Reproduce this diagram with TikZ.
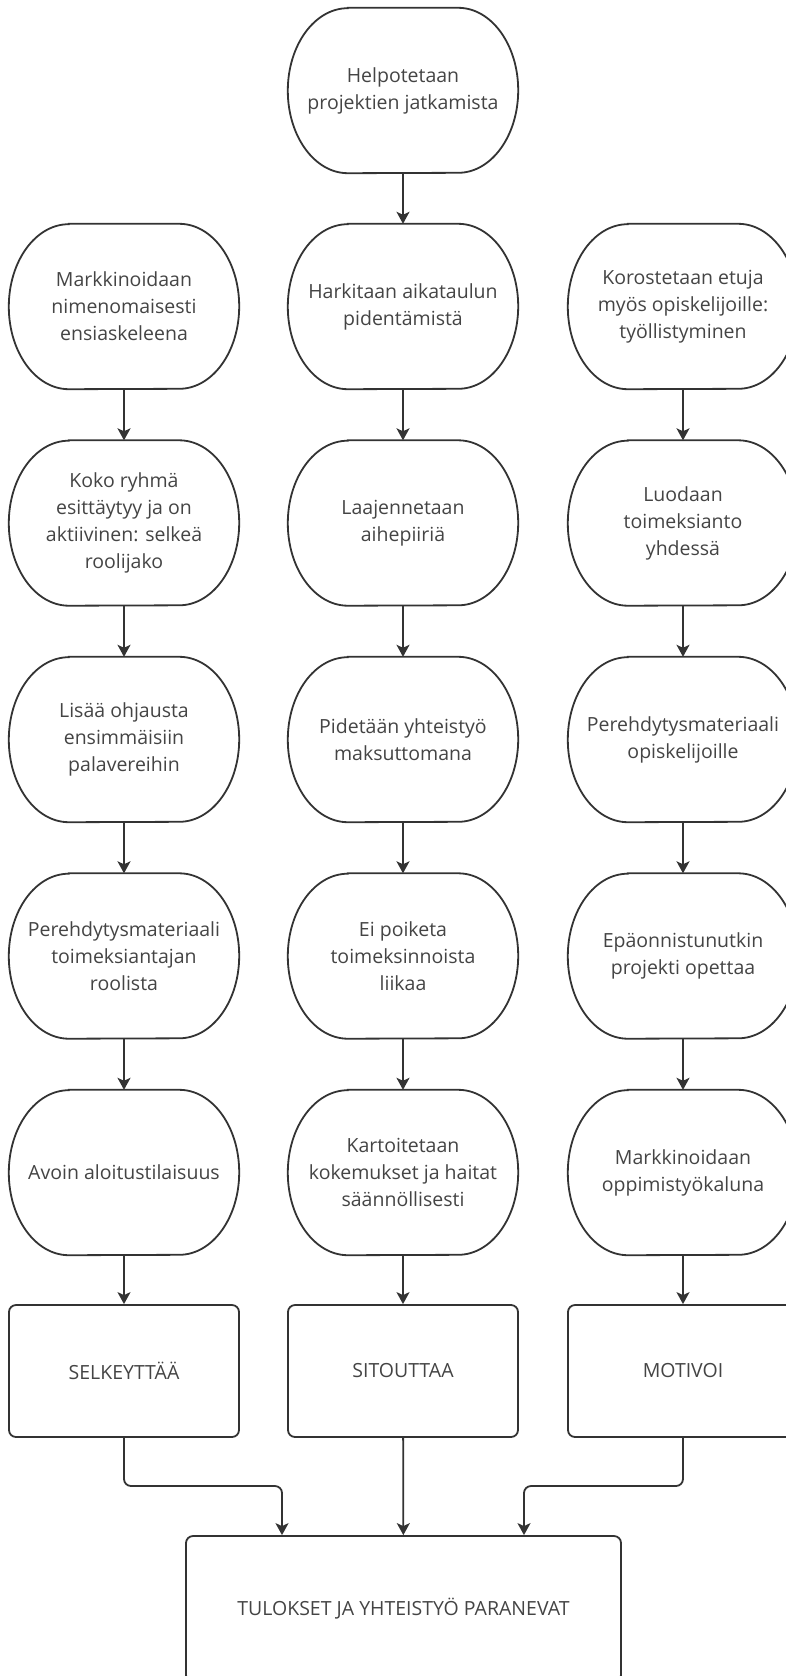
\documentclass[tikz,border=0pt]{standalone}
\usepackage{fontspec}
\setmainfont{Open Sans}
\usepackage{xcolor}
\usetikzlibrary{arrows.meta}
\definecolor{ink}{HTML}{333333}
\definecolor{txt}{HTML}{444444}
\tikzset{
  pill/.style={inner sep=0pt, minimum width=230pt, minimum height=165pt,
    align=center, text=txt, font=\fontsize{19.5pt}{27pt}\selectfont},
  outline/.style={draw=ink, line width=1.8pt},
  goalbox/.style={draw=ink, line width=1.8pt, rounded corners=7pt, inner sep=0pt,
    minimum width=230pt, minimum height=132pt, align=center, text=txt,
    font=\fontsize{19.5pt}{27pt}\selectfont},
  arrow/.style={draw=ink, line width=1.8pt, rounded corners=7pt,
    -{Stealth[length=12pt,width=13pt,inset=3pt]}}
}
\begin{document}
\begin{tikzpicture}[x=1pt,y=-1pt]
  \useasboundingbox (0,0) rectangle (785,1676);

  % top
  \node[pill] (top) at (403,90.5) {Helpotetaan\\projektien jatkamista};

  % left column
  \node[pill] (a1) at (124,306.5) {Markkinoidaan\\nimenomaisesti\\ensiaskeleena};
  \node[pill] (a2) at (124,523) {Koko ryhmä\\esittäytyy ja on\\aktiivinen: selkeä\\roolijako};
  \node[pill] (a3) at (124,739.5) {Lisää ohjausta\\ensimmäisiin\\palavereihin};
  \node[pill] (a4) at (124,956) {Perehdytysmateriaali\\toimeksiantajan\\roolista};
  \node[pill] (a5) at (124,1172.5) {Avoin aloitustilaisuus};
  \node[goalbox] (sel) at (124,1371) {SELKEYTTÄÄ};

  % middle column
  \node[pill] (b1) at (403,306.5) {Harkitaan aikataulun\\pidentämistä};
  \node[pill] (b2) at (403,523) {Laajennetaan\\aihepiiriä};
  \node[pill] (b3) at (403,739.5) {Pidetään yhteistyö\\maksuttomana};
  \node[pill] (b4) at (403,956) {Ei poiketa\\toimeksinnoista\\liikaa};
  \node[pill] (b5) at (403,1172.5) {Kartoitetaan\\kokemukset ja haitat\\säännöllisesti};
  \node[goalbox] (sit) at (403,1371) {SITOUTTAA};

  % right column
  \node[pill] (c1) at (683,306.5) {Korostetaan etuja\\myös opiskelijoille:\\työllistyminen};
  \node[pill] (c2) at (683,523) {Luodaan\\toimeksianto\\yhdessä};
  \node[pill] (c3) at (683,739.5) {Perehdytysmateriaali\\opiskelijoille};
  \node[pill] (c4) at (683,956) {Epäonnistunutkin\\projekti opettaa};
  \node[pill] (c5) at (683,1172.5) {Markkinoidaan\\oppimistyökaluna};
  \node[goalbox] (mot) at (683,1371) {MOTIVOI};

  % result
  \node[goalbox, minimum width=435pt, minimum height=146pt] (res) at (403.5,1609)
    {TULOKSET JA YHTEISTYÖ PARANEVAT};

  % pill outlines
  \foreach \n in {top,a1,a2,a3,a4,a5,b1,b2,b3,b4,b5,c1,c2,c3,c4,c5}
    \draw[outline] ([xshift=60pt]\n.north west) -- ([xshift=-60pt]\n.north east)
      arc[start angle=90, end angle=-90, x radius=60pt, y radius=82.5pt]
      -- ([xshift=60pt]\n.south west)
      arc[start angle=270, end angle=90, x radius=60pt, y radius=82.5pt] -- cycle;

  % arrows down the columns
  \draw[arrow] (top) -- (b1);
  \foreach \c in {a,b,c} {
    \draw[arrow] (\c1) -- (\c2);
    \draw[arrow] (\c2) -- (\c3);
    \draw[arrow] (\c3) -- (\c4);
    \draw[arrow] (\c4) -- (\c5);
  }
  \draw[arrow] (a5) -- (sel);
  \draw[arrow] (b5) -- (sit);
  \draw[arrow] (c5) -- (mot);

  % into the result
  \coordinate (kneeL) at (282,1486);
  \coordinate (kneeR) at (524,1486);
  \draw[arrow] (sel.south) |- (kneeL) -- (kneeL |- res.north);
  \draw[arrow] (sit) -- (res);
  \draw[arrow] (mot.south) |- (kneeR) -- (kneeR |- res.north);
\end{tikzpicture}
\end{document}
